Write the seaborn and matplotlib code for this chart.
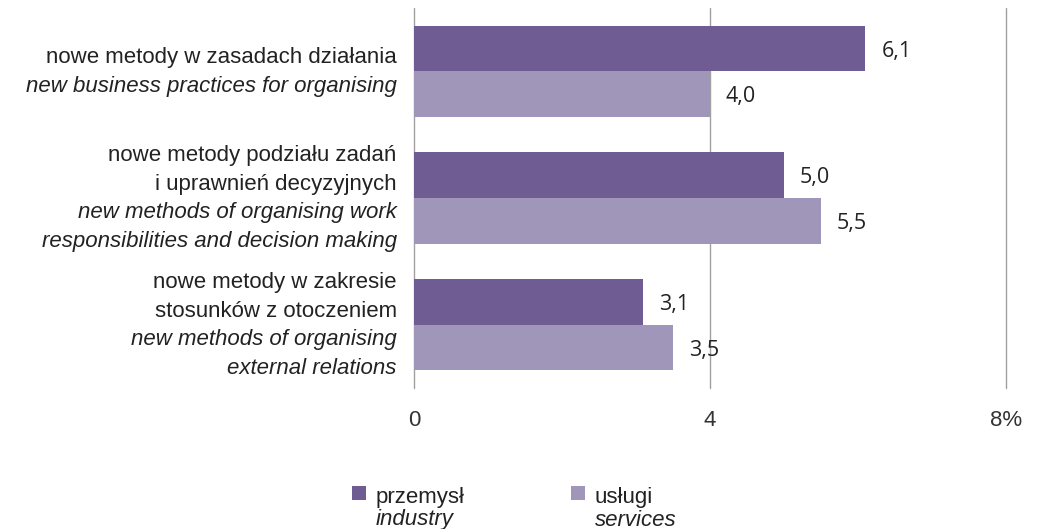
import matplotlib
matplotlib.use("Agg")
import matplotlib.pyplot as plt
import seaborn as sns
import pandas as pd
from matplotlib.patches import Rectangle

categories_pl = [
    ["nowe metody w zasadach działania"],
    ["nowe metody podziału zadań", "i uprawnień decyzyjnych"],
    ["nowe metody w zakresie", "stosunków z otoczeniem"],
]
categories_en = [
    ["new business practices for organising"],
    ["new methods of organising work", "responsibilities and decision making"],
    ["new methods of organising", "external relations"],
]
series_pl = ["przemysł", "usługi"]
series_en = ["industry", "services"]
industry = [6.1, 5.0, 3.1]
services = [4.0, 5.5, 3.5]
x_ticks = [0, 4, 8]
x_tick_labels = ["0", "4", "8%"]

colors = ["#6e5c93", "#a096b9"]
FONT = "Liberation Sans"
NUMFONT = "Open Sans"
FS = 16

cat_ids = ["c0", "c1", "c2"]
df = pd.DataFrame({
    "cat": cat_ids * 2,
    "series": [series_pl[0]] * 3 + [series_pl[1]] * 3,
    "value": industry + services,
})

sns.set_theme(style="white")
plt.rcParams["font.family"] = [FONT, "DejaVu Sans"]

W, H = 1043, 529
fig = plt.figure(figsize=(W / 100, H / 100), dpi=100)
ax = fig.add_axes([414 / W, 1 - 388 / H, (1006 - 414) / W, (388 - 8) / H])

sns.barplot(data=df, y="cat", x="value", hue="series", order=cat_ids,
            hue_order=series_pl, palette=colors, width=0.72, orient="h",
            ax=ax, legend=False, saturation=1, edgecolor="none", linewidth=0)

ax.set_xlim(0, 8)
ax.set_ylim(2.5, -0.5)
ax.set_xticks(x_ticks)
ax.set_xticklabels(x_tick_labels, fontsize=FS, color="#333333", family=FONT)
ax.set_yticks([])
ax.set_xlabel("")
ax.set_ylabel("")
ax.tick_params(axis="x", length=0, pad=15.5)
for s in ax.spines.values():
    s.set_visible(False)
for xv in x_ticks:
    ax.axvline(xv, color="#a0a0a0", lw=1, zorder=0, clip_on=False)

# value labels
for cont in ax.containers:
    for bar in cont:
        v = bar.get_width()
        yc = bar.get_y() + bar.get_height() / 2
        ax.annotate(f"{v:.1f}".replace(".", ","), xy=(v, yc), xytext=(11.5, -2),
                    textcoords="offset points", va="center", ha="left",
                    fontsize=15.5, color="#222222", family=NUMFONT)

# category labels
spacing = 28.5 / 1.389
for i in range(3):
    lines = [(t, "normal") for t in categories_pl[i]] + [(t, "italic") for t in categories_en[i]]
    n = len(lines)
    for j, (t, st) in enumerate(lines):
        off = ((n - 1) / 2 - j) * spacing - 0.5
        ax.annotate(t, xy=(0, i), xycoords=("axes fraction", "data"),
                    xytext=(-12.5, off), textcoords="offset points",
                    ha="right", va="center", fontsize=FS, style=st,
                    color="#222222", family=FONT)

# legend
leg = [(352, series_pl[0], series_en[0], colors[0]), (571, series_pl[1], series_en[1], colors[1])]
for x0, lp, le, c in leg:
    fig.patches.append(Rectangle((x0 / W, 1 - 500 / H), 14 / W, 14 / H,
                                 transform=fig.transFigure, color=c, lw=0))
    fig.text((x0 + 24) / W, 1 - 497 / H, lp, ha="left", va="center", fontsize=FS,
             color="#222222", family=FONT)
    fig.text((x0 + 24) / W, 1 - 520 / H, le, ha="left", va="center", fontsize=FS,
             style="italic", color="#222222", family=FONT)

fig.savefig("out.png", dpi=100)
